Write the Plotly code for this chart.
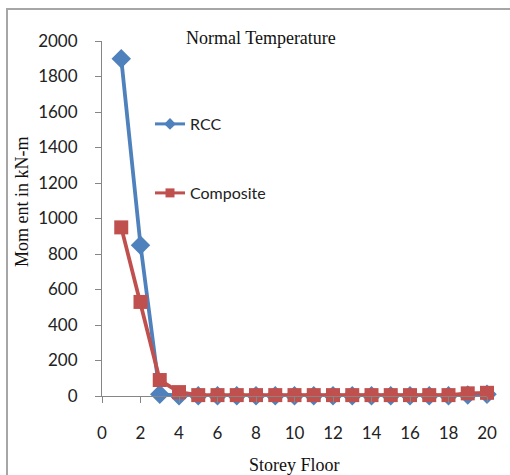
import plotly.graph_objects as go

floors = list(range(1, 21))
rcc = [1900, 850, 10, 2, 1, 1, 1, 1, 1, 1, 1, 1, 1, 1, 1, 1, 1, 1, 5, 10]
composite = [950, 530, 90, 22, 5, 5, 5, 5, 5, 5, 5, 5, 5, 5, 5, 5, 5, 5, 15, 18]

x_ticks = list(range(0, 21, 2))
y_ticks = list(range(0, 2001, 200))

BLUE = "#4F81BD"
RED = "#C0504D"
AXIS = "#868686"
SERIF = "Liberation Serif"
SANS = "Lato"

fig = go.Figure()

# data series (legend entries drawn separately with smaller markers)
fig.add_trace(go.Scatter(
    x=floors, y=rcc, mode="lines+markers", showlegend=False,
    line=dict(color=BLUE, width=3.8),
    marker=dict(symbol="diamond", size=15, color=BLUE),
    cliponaxis=False,
))
fig.add_trace(go.Scatter(
    x=floors, y=composite, mode="lines+markers", showlegend=False,
    line=dict(color=RED, width=3.8),
    marker=dict(symbol="square", size=14, color=RED),
    cliponaxis=False,
))

# legend keys
fig.add_trace(go.Scatter(
    x=[None], y=[None], mode="lines+markers", name="RCC", legend="legend",
    line=dict(color=BLUE, width=3), marker=dict(symbol="diamond", size=9, color=BLUE),
))
fig.add_trace(go.Scatter(
    x=[None], y=[None], mode="lines+markers", name="Composite", legend="legend2",
    line=dict(color=RED, width=3), marker=dict(symbol="square", size=9, color=RED),
))

W, H = 510, 475
L, R, T, B = 102, 23, 41, 79
PW, PH = W - L - R, H - T - B


def px_x(p):
    # pixel column -> paper fraction of the plot area
    return (p - L) / PW


def px_y(p):
    # pixel row -> paper fraction of the plot area
    return 1 - (p - T) / PH


legend_common = dict(
    bgcolor="rgba(0,0,0,0)", font=dict(family=SANS, size=16, color="#222"),
    xref="paper", yref="paper", xanchor="left", yanchor="middle",
)

fig.update_layout(
    width=W, height=H,
    margin=dict(l=L, r=R, t=T, b=B),
    paper_bgcolor="white", plot_bgcolor="white",
    xaxis=dict(
        range=[0, 20], tickvals=x_ticks, showgrid=False, zeroline=False,
        showline=True, linecolor=AXIS, linewidth=1,
        ticks="outside", ticklen=6, tickcolor=AXIS,
        tickfont=dict(family=SANS, size=17, color="#222"),
        ticklabelstandoff=16,
    ),
    yaxis=dict(
        range=[0, 2000], tickvals=y_ticks, showgrid=False, zeroline=False,
        showline=True, linecolor=AXIS, linewidth=1,
        ticks="outside", ticklen=6, tickcolor=AXIS,
        tickfont=dict(family=SANS, size=17, color="#222"),
        ticklabelstandoff=14,
    ),
    legend=dict(x=px_x(150), y=px_y(124), **legend_common),
    legend2=dict(x=px_x(150), y=px_y(193), **legend_common),
    showlegend=True,
)

# titles
fig.add_annotation(
    text="Normal Temperature", xref="paper", yref="paper",
    x=px_x(261), y=px_y(38), xanchor="center", yanchor="middle", showarrow=False,
    font=dict(family=SERIF, size=18, color="#111"),
)
fig.add_annotation(
    text="Storey Floor", xref="paper", yref="paper",
    x=px_x(294), y=px_y(465), xanchor="center", yanchor="middle", showarrow=False,
    font=dict(family=SERIF, size=18, color="#111"),
)
fig.add_annotation(
    text="Mom ent in kN-m", xref="paper", yref="paper",
    x=px_x(22), y=px_y(202), xanchor="center", yanchor="middle", showarrow=False,
    textangle=-90,
    font=dict(family=SERIF, size=18, color="#111"),
)

# chart frame
fig.add_shape(
    type="rect", xref="paper", yref="paper",
    x0=px_x(7), y0=px_y(480), x1=px_x(515), y1=px_y(9),
    line=dict(color="#A6A6A6", width=2), layer="below",
)

fig.write_html("out.html")
